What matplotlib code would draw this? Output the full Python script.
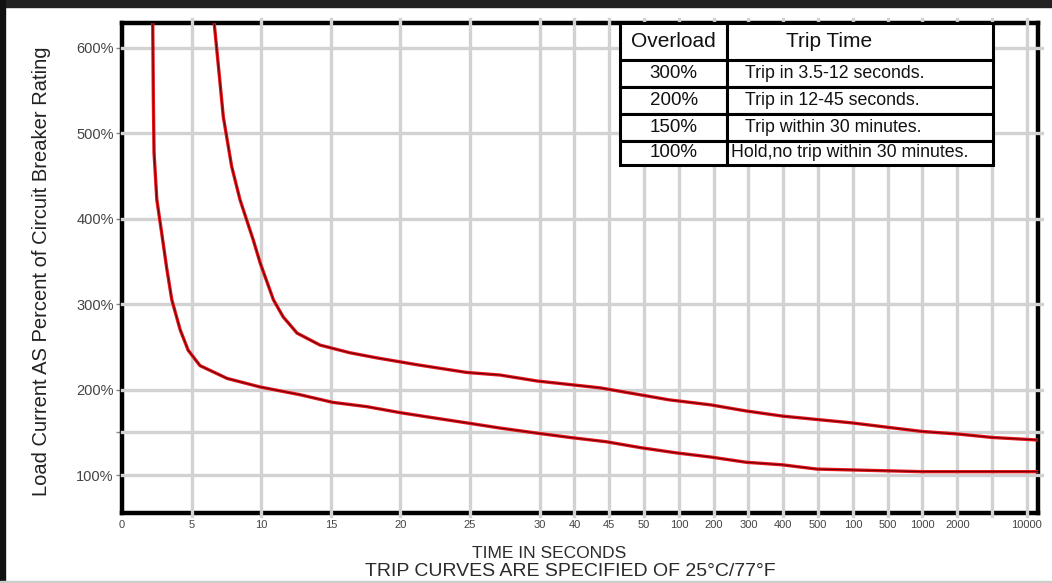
import matplotlib
matplotlib.use("Agg")
import matplotlib.pyplot as plt
from matplotlib.patches import Rectangle

plt.rcParams['font.family'] = ['Liberation Sans', 'DejaVu Sans']

# x axis is a broken/categorical time scale, one unit = one grid step of ~35 px
x_ticks = [0, 2, 4, 6, 8, 10, 12, 13, 14, 15, 16, 17, 18, 19, 20, 21, 22, 23, 24, 25, 26]
x_labels = ['0', '5', '10', '15', '20', '25', '30', '40', '45', '50', '100', '200', '300',
            '400', '500', '100', '500', '1000', '2000', '', '10000']
y_ticks = [100, 150, 200, 300, 400, 500, 600]
y_labels = ['100%', '', '200%', '300%', '400%', '500%', '600%']

# lower curve (fast trip limit)
low_x = [0.88, 0.90, 0.92, 1.00, 1.14, 1.28, 1.43, 1.67, 1.90, 2.24, 3.02, 3.97, 5.11, 6.06,
         7.04, 7.99, 8.94, 9.91, 10.86, 11.93, 12.87, 13.91, 14.91, 15.92, 16.93, 17.93,
         18.97, 19.97, 20.98, 21.98, 22.99, 24.02, 26.32]
low_y = [640, 539, 477, 422, 383, 343, 305, 270, 246, 228, 213, 203, 194, 185,
         180, 173, 167, 161, 155, 149, 144, 139, 132, 126, 121, 115,
         112, 107, 106, 105, 104, 104, 104]

# upper curve (slow trip limit)
up_x = [2.62, 2.77, 2.91, 3.15, 3.39, 3.77, 3.97, 4.35, 4.63, 5.03, 5.69, 6.55, 7.33, 8.48,
        9.91, 10.86, 11.93, 13.74, 15.72, 16.93, 17.93, 18.97, 19.97, 20.98, 21.98,
        22.99, 24.02, 25.0, 26.32]
up_y = [640, 578, 519, 461, 422, 375, 348, 305, 285, 266, 252, 243, 237, 229,
        220, 217, 210, 202, 188, 182, 175, 169, 165, 161, 156,
        151, 148, 144, 141]

tbl_cols = ['Overload', 'Trip Time']
tbl_overload = ['300%', '200%', '150%', '100%']
tbl_trip = ['Trip in 3.5-12 seconds.', 'Trip in 12-45 seconds.',
            'Trip within 30 minutes.', 'Hold,no trip within 30 minutes.']

fig = plt.figure(figsize=(10.52, 5.83), dpi=100)
ax = fig.add_axes([0.116, 0.120, 0.8707, 0.841])

ax.set_xlim(0, 26.32)
ax.set_ylim(55.6, 629)

grid_c = '#d2d2d2'
for p in x_ticks[1:]:
    ax.axvline(p, ymin=-0.007, ymax=1.007, color=grid_c, lw=2.4, zorder=3, clip_on=False)
for v in y_ticks:
    ax.axhline(v, xmin=0.0, xmax=1.004, color=grid_c, lw=2.4, zorder=3, clip_on=False)

for xs, ys in [(low_x, low_y), (up_x, up_y)]:
    ax.plot(xs, ys, color='#e8141c', lw=2.4, zorder=4, solid_joinstyle='round')
    ax.plot(xs, ys, color='#6a0000', lw=0.8, zorder=4.1, solid_joinstyle='round')

for s in ax.spines.values():
    s.set_linewidth(3.2)
    s.set_color('black')
    s.set_zorder(2.5)

ax.set_xticks(x_ticks)
ax.set_xticklabels(x_labels)
ax.set_yticks(y_ticks)
ax.set_yticklabels(y_labels)
ax.tick_params(axis='x', length=0, pad=5, labelsize=8, labelcolor='#444444')
ax.tick_params(axis='y', length=4, width=1, color='#888888', pad=2,
               labelsize=10.5, labelcolor='#444444')

# overload table in the upper right
tbl = ax.table(cellText=[[a, b] for a, b in zip(tbl_overload, tbl_trip)],
               colLabels=tbl_cols, colWidths=[0.117, 0.29],
               bbox=[0.5437, 0.710, 0.4073, 0.290], cellLoc='center')
tbl.auto_set_font_size(False)
tbl.set_zorder(6)
heights = [37, 27, 27, 27, 24]
for (r, c), cell in tbl.get_celld().items():
    cell.set_linewidth(2.2)
    cell.set_edgecolor('black')
    cell.set_facecolor('white')
    cell.set_height(heights[r])
    txt = cell.get_text()
    txt.set_color('#111111')
    if r == 0:
        txt.set_fontsize(15)
        if c == 1:
            txt.set_horizontalalignment('left')
            cell.PAD = 0.22
    else:
        if c == 0:
            txt.set_fontsize(13.5)
        else:
            txt.set_fontsize(12.8)
            txt.set_horizontalalignment('left')
            cell.PAD = 0.015 if r == 4 else 0.065

fig.text(0.039, 0.535, 'Load Current AS Percent of Circuit Breaker Rating',
         rotation=90, ha='center', va='center', fontsize=14.5, color='#222222')
fig.text(0.522, 1 - 553 / 583, 'TIME IN SECONDS', ha='center', va='center',
         fontsize=12.5, color='#2a2a2a')
fig.text(0.542, 1 - 572 / 583, 'TRIP CURVES ARE SPECIFIED OF 25°C/77°F',
         ha='center', va='center', fontsize=14, color='#2a2a2a')

# dark frame of the original screenshot
fig.add_artist(Rectangle((0, 1 - 7 / 583), 1, 7 / 583, transform=fig.transFigure,
                         color='#222222', zorder=10))
fig.add_artist(Rectangle((0, 0), 5 / 1052, 1, transform=fig.transFigure,
                         color='#111111', zorder=10))
fig.add_artist(Rectangle((0, 0), 1, 2 / 583, transform=fig.transFigure,
                         color='#cccccc', zorder=10))

fig.savefig('out.png', dpi=100)
